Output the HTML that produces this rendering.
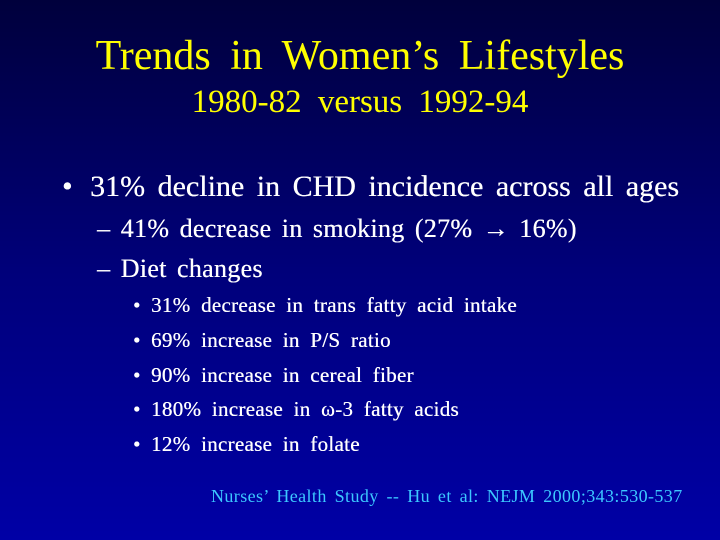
<!DOCTYPE html>
<html><head><style>
body{margin:0;}
#s{position:relative;width:720px;height:540px;overflow:hidden;background:linear-gradient(#00003c,#00007a 50%,#0000a6);font-family:"Liberation Serif",serif;}
.t{position:absolute;white-space:nowrap;line-height:1;}
.y{color:#ffff00;}
.w{color:#fff;text-shadow:0.3px 0 0 #fff;}
.l3{font-size:21px;letter-spacing:0.3px;word-spacing:5px;left:151px;}
.b3{font-size:21px;left:133px;}
</style></head><body><div id="s">
<div class="t y" style="left:0;width:720px;text-align:center;top:35px;font-size:42px;word-spacing:9px;">Trends in Women’s Lifestyles</div>
<div class="t y" style="left:0;width:720px;text-align:center;top:86px;font-size:33px;word-spacing:8px;">1980-82 versus 1992-94</div>
<div class="t w" style="left:62px;top:172px;font-size:30px;">•</div>
<div class="t w" style="left:90px;top:172px;font-size:30px;word-spacing:5px;">31% decline in CHD incidence across all ages</div>
<div class="t w" style="left:97px;top:216px;font-size:26px;letter-spacing:0.3px;word-spacing:3.5px;">– 41% decrease in smoking (27% → 16%)</div>
<div class="t w" style="left:97px;top:256px;font-size:26px;letter-spacing:0.3px;word-spacing:3.5px;">– Diet changes</div>
<div class="t w b3" style="top:295px;">•</div><div class="t w l3" style="top:295px;">31% decrease in trans fatty acid intake</div>
<div class="t w b3" style="top:330px;">•</div><div class="t w l3" style="top:330px;">69% increase in P/S ratio</div>
<div class="t w b3" style="top:365px;">•</div><div class="t w l3" style="top:365px;">90% increase in cereal fiber</div>
<div class="t w b3" style="top:399px;">•</div><div class="t w l3" style="top:399px;">180% increase in ω-3 fatty acids</div>
<div class="t w b3" style="top:434px;">•</div><div class="t w l3" style="top:434px;">12% increase in folate</div>
<div class="t" style="left:211px;top:487px;font-size:18px;letter-spacing:0.4px;word-spacing:3px;color:#3cc8ff;">Nurses’ Health Study -- Hu et al: NEJM 2000;343:530-537</div>
</div></body></html>
